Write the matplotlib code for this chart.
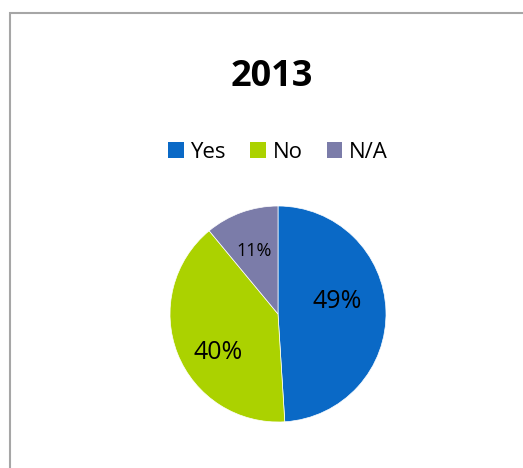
import matplotlib
matplotlib.use("Agg")
import numpy as np
import matplotlib.pyplot as plt
from matplotlib.patches import Patch, Rectangle

plt.rcParams['font.family'] = ['Open Sans', 'DejaVu Sans']

title = "2013"
categories = ["Yes", "No", "N/A"]
shares = [49, 40, 11]
colors = ["#0A69C6", "#ABD200", "#7B7CA9"]

# label styling: font size, position along the wedge arc (0..1), radial distance
label_sizes = [18, 18, 13]
label_arc_frac = [0.555, 0.575, 0.525]
label_radius = [0.56, 0.66, 0.62]

W, H = 523, 468
fig = plt.figure(figsize=(W / 100, H / 100), dpi=100)
fig.patch.set_facecolor("white")

# chart-area frame (extends past the right and bottom edges)
fig.add_artist(Rectangle((9.5 / W, -0.1), 1.2, (H - 12.5) / H + 0.1,
                         transform=fig.transFigure, fill=False,
                         edgecolor="#A6A6A6", linewidth=1.5))

fig.text(272 / W, 1 - 77 / H, title, ha="center", va="center",
         fontsize=26, fontweight="bold", color="black")

# pie axes: square box of 216 px centred at (278, 314)
r = 108
ax = fig.add_axes([(278 - r) / W, (H - 314 - r) / H, 2 * r / W, 2 * r / H])
wedges, texts, autotexts = ax.pie(
    shares, colors=colors, startangle=90, counterclock=False,
    autopct=lambda p: f"{p:.0f}%", pctdistance=0.6,
    wedgeprops=dict(edgecolor="white", linewidth=0.5),
    textprops=dict(color="black"))
for w, t, s, f, d in zip(wedges, autotexts, label_sizes, label_arc_frac, label_radius):
    ang = np.deg2rad(w.theta1 + f * (w.theta2 - w.theta1))
    t.set_position((d * np.cos(ang), d * np.sin(ang)))
    t.set_fontsize(s)
ax.set_xlim(-1, 1)
ax.set_ylim(-1, 1)
ax.axis("off")

handles = [Patch(facecolor=c, edgecolor="none") for c in colors]
fig.legend(handles, categories, loc="center", bbox_to_anchor=(278 / W, 1 - 152 / H),
           ncol=3, frameon=False, fontsize=16, handlelength=0.7, handleheight=0.7,
           handletextpad=0.3, columnspacing=1.1)

fig.savefig("out.png", dpi=100, facecolor="white")
